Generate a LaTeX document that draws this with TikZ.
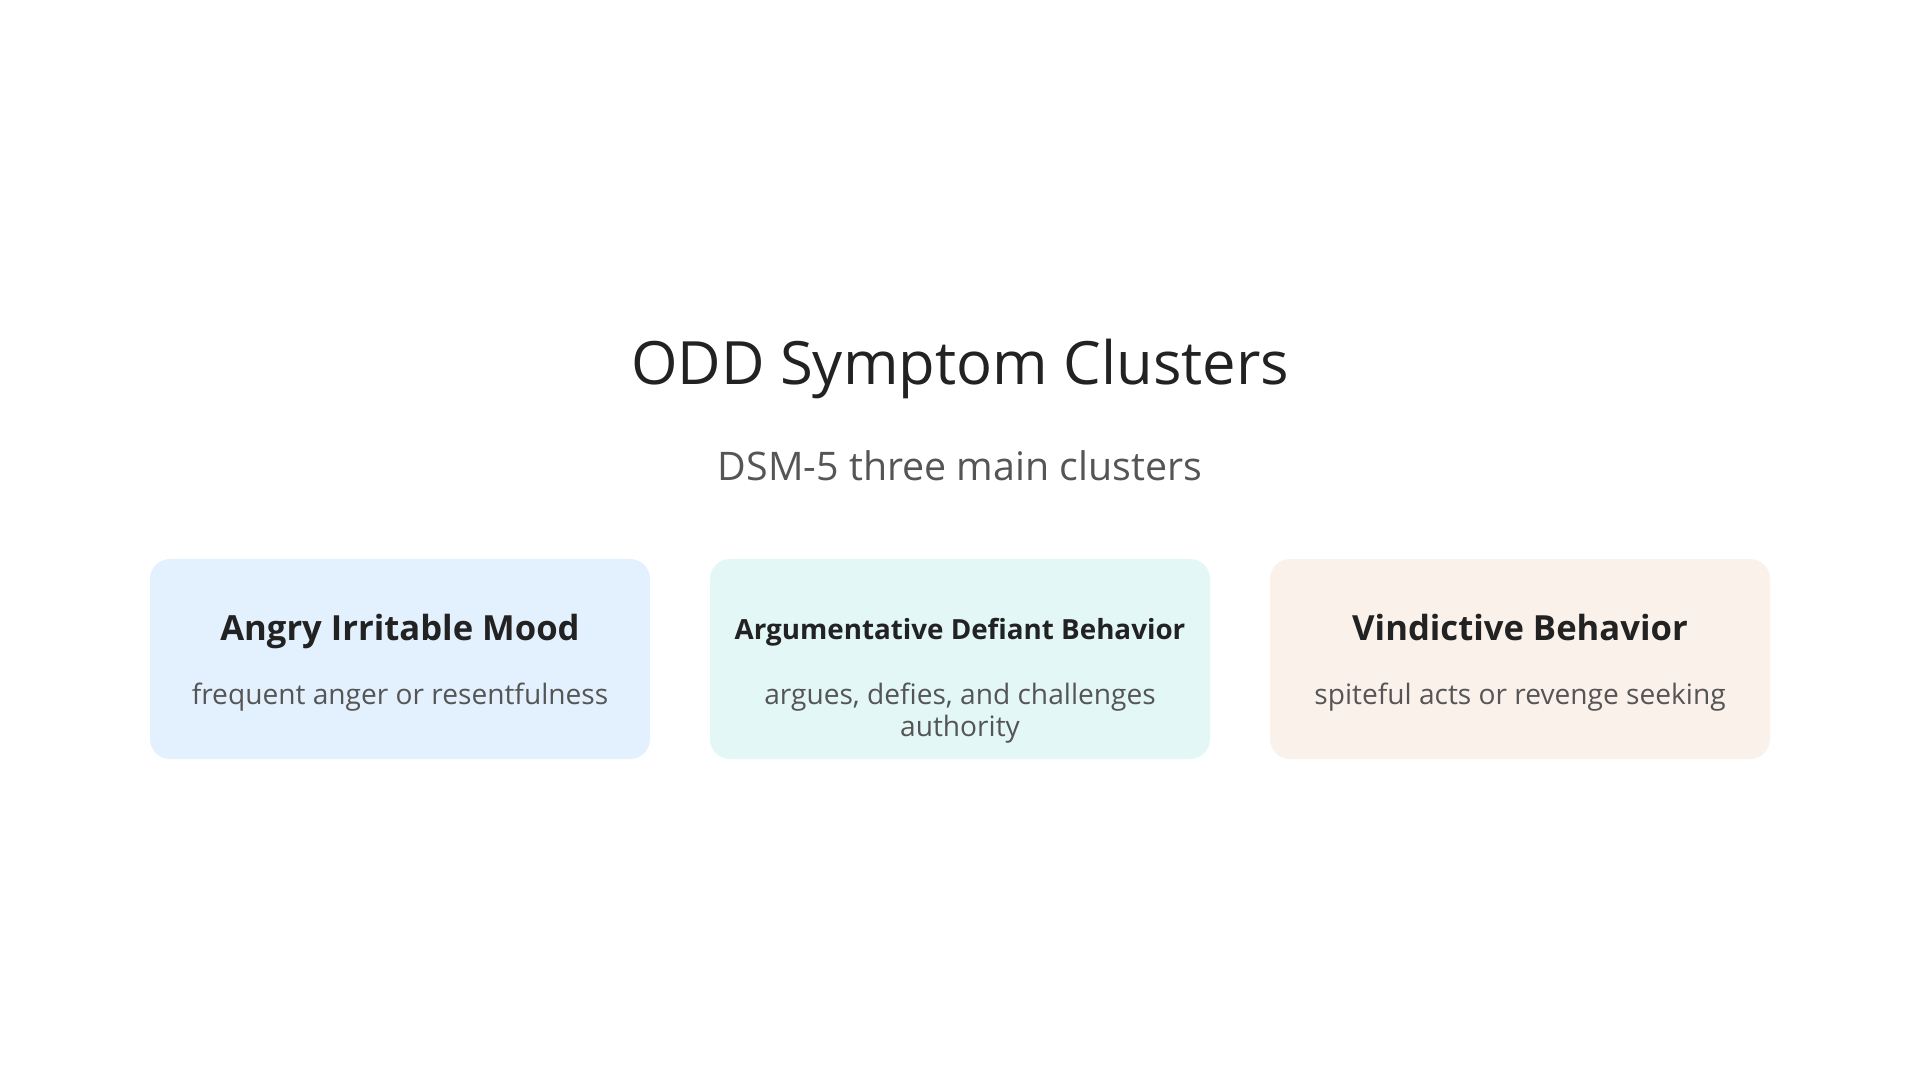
\documentclass[tikz,border=0pt]{standalone}
\usepackage{fontspec}
\setmainfont{Open Sans}
\usetikzlibrary{positioning}
\definecolor{TextDark}{RGB}{34,34,34}
\definecolor{TextGray}{RGB}{85,85,85}
\definecolor{MoodBlue}{RGB}{227,240,253}
\definecolor{DefyTeal}{RGB}{226,247,246}
\definecolor{RevengePeach}{RGB}{251,241,235}
\tikzset{
  cbox/.style={rounded corners=0.2cm,minimum width=5cm,minimum height=2cm,
               inner sep=0pt,draw=none},
  chead/.style={anchor=base,text=TextDark,font=\fontsize{9.85pt}{12pt}\selectfont\bfseries},
  cdesc/.style={anchor=base,text=TextGray,align=center,
                font=\fontsize{8.0pt}{8.9pt}\selectfont},
}

\begin{document}
\begin{tikzpicture}
    \useasboundingbox[fill=white] (0,0) rectangle (19.2,-10.8);
    \node[anchor=base,text=TextDark,font=\fontsize{17pt}{20pt}\selectfont] (title) at (9.6,-3.85) {ODD Symptom Clusters};
    \node[anchor=base,text=TextGray,font=\fontsize{11.2pt}{13pt}\selectfont] (sub) at (9.6,-4.8) {DSM-5 three main clusters};
    % cluster cards
    \node[cbox,fill=MoodBlue] (b1) at (4.0,-6.59) {};
    \node[cbox,fill=DefyTeal] (b2) at (9.6,-6.59) {};
    \node[cbox,fill=RevengePeach] (b3) at (15.2,-6.59) {};
    \node[chead] (h1) at (4.0,-6.40) {Angry Irritable Mood};
    \node[chead,font=\fontsize{7.9pt}{10pt}\selectfont\bfseries] (h2) at (9.6,-6.39) {Argumentative Defiant Behavior};
    \node[chead] (h3) at (15.2,-6.40) {Vindictive Behavior};
    \node[cdesc] (d1) at (4.0,-7.04) {frequent anger or resentfulness};
    \node[cdesc,anchor=north] (d2) at (9.6,-6.71) {argues, defies, and challenges\\authority};
    \node[cdesc] (d3) at (15.2,-7.04) {spiteful acts or revenge seeking};
\end{tikzpicture}
\end{document}
